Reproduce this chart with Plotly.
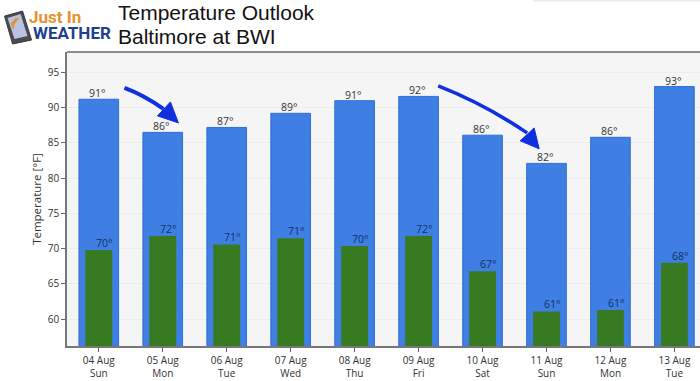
import plotly.graph_objects as go

days = ["04 Aug<br>Sun", "05 Aug<br>Mon", "06 Aug<br>Tue", "07 Aug<br>Wed", "08 Aug<br>Thu",
        "09 Aug<br>Fri", "10 Aug<br>Sat", "11 Aug<br>Sun", "12 Aug<br>Mon", "13 Aug<br>Tue"]
highs = [91.2, 86.5, 87.2, 89.2, 91.0, 91.6, 86.1, 82.1, 85.8, 93.0]
lows = [69.8, 71.8, 70.6, 71.5, 70.4, 71.8, 66.8, 61.1, 61.3, 68.0]
high_labels = ["91°", "86°", "87°", "89°", "91°", "92°", "86°", "82°", "86°", "93°"]
low_labels = ["70°", "72°", "71°", "71°", "70°", "72°", "67°", "61°", "61°", "68°"]
yticks = [60, 65, 70, 75, 80, 85, 90, 95]
idx = list(range(len(days)))

L, T, B = 66.5, 52.0, 346.5
W, H = 700 - L, B - T
def X(p): return (p - L) / W
def Y(p): return (B - p) / H
def poly(*pts): return "M " + " L ".join(f"{X(a):.4f},{Y(b):.4f}" for a, b in pts) + " Z"
def curve(a, c, b):
    return f"M {X(a[0]):.4f},{Y(a[1]):.4f} Q {X(c[0]):.4f},{Y(c[1]):.4f} {X(b[0]):.4f},{Y(b[1]):.4f}"

TICK = "Open Sans"
fig = go.Figure()
fig.add_bar(x=idx, y=highs, width=0.62, marker=dict(color="#3f7fe3", line=dict(color="#2f6fd8", width=1)))
fig.add_bar(x=idx, y=lows, width=0.42, marker=dict(color="#387a22", line=dict(width=0)))

annots = []
for i, (h, l, hl, ll) in enumerate(zip(highs, lows, high_labels, low_labels)):
    annots.append(dict(x=i, y=h, text=hl, showarrow=False, yanchor="bottom", xshift=-1, yshift=-3,
                       font=dict(family=TICK, size=10.5, color="#333333")))
    annots.append(dict(x=i, y=l, text=ll, showarrow=False, yanchor="bottom", xshift=6, yshift=-2,
                       font=dict(family=TICK, size=10.5, color="#10305f")))

def label(x, y, text, family, size, color):
    return dict(xref="paper", yref="paper", x=X(x), y=Y(y), xanchor="left", yanchor="middle", showarrow=False,
                text=text, font=dict(family=family, size=size, color=color), borderpad=0)

annots += [
    label(117, 12, "Temperature Outlook", "Liberation Sans", 21, "#111111"),
    label(117, 36, "Baltimore at BWI", "Liberation Sans", 21, "#111111"),
    label(27, 17, "<b>Just In</b>", "Roboto", 17, "#e8912d"),
    label(31, 33, "<b>WEATHER</b>", "Roboto", 17, "#1c3f8f"),
]

arrow = "#1030e0"
shapes = [
    dict(type="path", xref="paper", yref="paper", line=dict(color=arrow, width=4),
         path=curve((124, 88), (143, 95), (163, 109))),
    dict(type="path", xref="paper", yref="paper", fillcolor=arrow, line=dict(color=arrow, width=1),
         path=poly((178, 123), (157, 116), (170, 102))),
    dict(type="path", xref="paper", yref="paper", line=dict(color=arrow, width=3.5),
         path=curve((438, 86), (484, 104), (527, 133))),
    dict(type="path", xref="paper", yref="paper", fillcolor=arrow, line=dict(color=arrow, width=1),
         path=poly((539, 149), (520, 141), (534, 128))),
    # plot frame top
    dict(type="line", xref="paper", yref="paper", x0=0, x1=1, y0=1, y1=1, line=dict(color="#666666", width=1.5)),
    # faint strip along the top edge of the picture
    dict(type="rect", xref="paper", yref="paper", x0=X(533), x1=1, y0=Y(1.5), y1=Y(0), fillcolor="#ececec", line=dict(width=0)),
    # logo phone
    dict(type="path", xref="paper", yref="paper", fillcolor="#4a4a50", line=dict(color="#3a3a40", width=1),
         path=poly((4, 16), (22, 11), (31, 40), (12, 44))),
    dict(type="path", xref="paper", yref="paper", fillcolor="#b9c3e4", line=dict(width=0),
         path=poly((7, 18), (20, 14), (27, 36), (14, 39))),
    dict(type="path", xref="paper", yref="paper", fillcolor="#e8912d", line=dict(width=0),
         path=poly((10, 24), (15, 18), (19, 18), (14, 24), (13, 30))),
]

fig.update_layout(
    width=700, height=381, autosize=False, showlegend=False, barmode="overlay",
    paper_bgcolor="white", plot_bgcolor="#f5f5f5",
    margin=dict(l=L, r=0, t=T, b=381 - B, pad=0, autoexpand=False),
    annotations=annots, shapes=shapes,
    xaxis=dict(range=[-0.497, 9.40], tickmode="array", tickvals=idx, ticktext=days, ticks="outside",
               ticklen=4, tickcolor="#666666", tickfont=dict(family=TICK, size=10, color="#333333"),
               showgrid=False, showline=True, linecolor="#777777", linewidth=1.5, zeroline=False),
    yaxis=dict(range=[56.2, 97.9], tickmode="array", tickvals=yticks, ticks="outside",
               ticklen=4, tickcolor="#666666", tickfont=dict(family=TICK, size=10, color="#333333"),
               gridcolor="#ececec", gridwidth=1, showline=True, linecolor="#777777", linewidth=1.5, zeroline=False,
               title=dict(text="Temperature [°F]", font=dict(family=TICK, size=11.5, color="#333333"), standoff=4)),
)
fig.write_html("out.html", config={"displayModeBar": False}, post_script="document.body.style.margin='0';")
